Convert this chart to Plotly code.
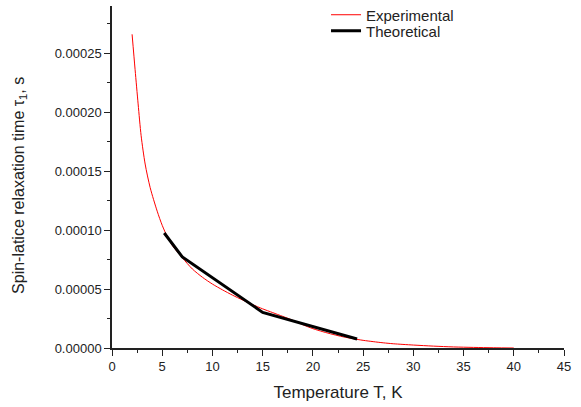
import plotly.graph_objects as go

# Experimental curve (red)
exp_T = [2.0, 2.3, 2.6, 2.9, 3.3, 3.8, 4.5, 5.0, 5.5, 6.0, 7.0, 8.0, 9.0, 10.0,
         11.0, 12.0, 13.0, 14.0, 15.0, 16.0, 17.0, 18.0, 19.0, 20.0, 21.0, 22.0,
         23.0, 24.0, 25.0, 26.0, 27.0, 28.0, 30.0, 32.0, 34.0, 36.0, 38.0, 40.0]
exp_tau = [26.6e-5, 23.6e-5, 20.7e-5, 18.0e-5, 15.6e-5, 13.6e-5, 11.6e-5, 10.4e-5, 9.45e-5,
           8.7e-5, 7.65e-5, 6.7e-5, 6.0e-5, 5.42e-5,
           4.93e-5, 4.48e-5, 4.07e-5, 3.68e-5, 3.32e-5, 3.0e-5, 2.68e-5, 2.35e-5, 1.97e-5, 1.64e-5,
           1.38e-5, 1.15e-5, 0.95e-5, 0.79e-5, 0.65e-5, 0.54e-5, 0.44e-5, 0.36e-5, 0.25e-5,
           0.16e-5, 0.09e-5, 0.05e-5, 0.02e-5, 0.0]

# Theoretical curve (black)
theo_T = [5.2, 7.0, 15.0, 20.0, 24.4]
theo_tau = [9.75e-5, 7.72e-5, 3.02e-5, 1.8e-5, 0.76e-5]

FONT = "Liberation Sans, Arial, Helvetica, sans-serif"

fig = go.Figure()
fig.add_trace(go.Scatter(x=exp_T, y=exp_tau, mode="lines", name="Experimental",
                         legend="legend",
                         line=dict(color="#ff0000", width=1, shape="spline", smoothing=0.8)))
fig.add_trace(go.Scatter(x=theo_T, y=theo_tau, mode="lines", name="Theoretical",
                         legend="legend2",
                         line=dict(color="#000000", width=3)))

axis_common = dict(
    showgrid=False, zeroline=False, showline=True, linecolor="#222", linewidth=1.5,
    ticks="outside", ticklen=6, tickwidth=1, tickcolor="#222",
    tickfont=dict(family=FONT, size=13, color="#222"),
)

fig.update_xaxes(
    range=[0, 45], dtick=5, tick0=0,
    minor=dict(dtick=2.5, ticks="outside", ticklen=3.5, tickcolor="#222", showgrid=False),
    title=dict(text="Temperature T, K", font=dict(family=FONT, size=17, color="#222"), standoff=13),
    **axis_common,
)
fig.update_yaxes(
    range=[0, 0.00029], dtick=0.00005, tick0=0, tickformat=".5f",
    minor=dict(dtick=0.000025, ticks="outside", ticklen=3.5, tickcolor="#222", showgrid=False),
    **axis_common,
)

fig.add_annotation(
    text="Spin-latice relaxation time τ<sub>1</sub>, s",
    xref="paper", yref="paper", x=-0.2035, y=0.474,
    xanchor="center", yanchor="middle", textangle=-90, showarrow=False,
    font=dict(family=FONT, size=16, color="#222"),
)

legend_common = dict(xanchor="left", yanchor="middle", bgcolor="rgba(0,0,0,0)", borderwidth=0,
                     font=dict(family=FONT, size=15, color="#222"), itemwidth=30)

fig.update_layout(
    width=581, height=407,
    margin=dict(l=112, r=17, t=6, b=59, autoexpand=False),
    plot_bgcolor="white", paper_bgcolor="white",
    font=dict(family=FONT, color="#222"),
    showlegend=True,
    legend=dict(x=0.4735, y=0.9737, **legend_common),
    legend2=dict(x=0.4735, y=0.927, **legend_common),
)

fig.write_html("out.html")
